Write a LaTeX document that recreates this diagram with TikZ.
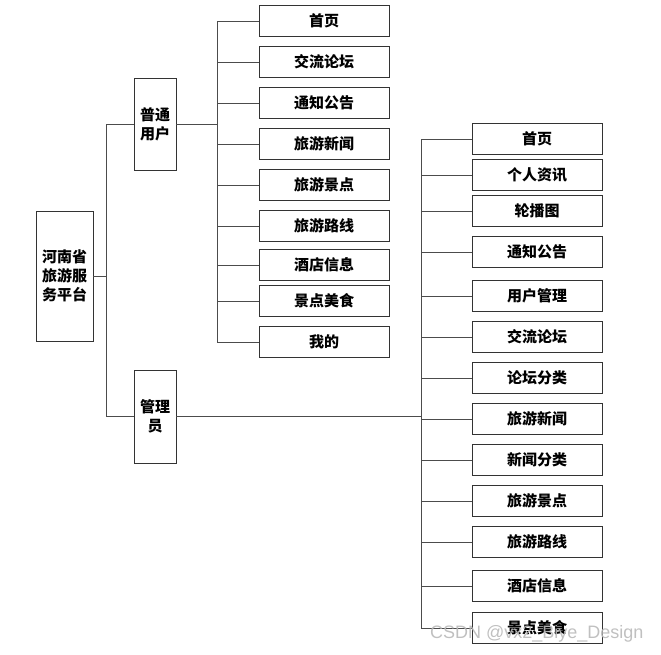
\documentclass[tikz,border=0pt]{standalone}
\usepackage{fontspec}
\usepackage{tikz}
\setmainfont{Liberation Sans}
\newfontfamily\cjk{Noto Sans CJK SC}
\newcommand{\boxfont}{\cjk\bfseries\fontsize{15pt}{19pt}\selectfont}

\tikzset{
    menubox/.style={draw=black!80, line width=0.9pt, inner sep=0pt, align=center, font=\boxfont},
    leafbox/.style={menubox, minimum width=130pt, minimum height=31pt},
    link/.style={draw=black!70, line width=0.8pt},
}

\begin{document}
\begin{tikzpicture}[x=1pt,y=-1pt]
    \useasboundingbox (0,0) rectangle (661,654);

    % platform and roles
    \node[menubox, minimum width=57pt, minimum height=130pt] (platform) at (64.5,276) {河南省\\旅游服\\务平台};
    \node[menubox, minimum width=42pt, minimum height=92pt] (user) at (155,124) {普通\\用户};
    \node[menubox, minimum width=42pt, minimum height=93pt] (admin) at (155,416.5) {管理\\员};

    \coordinate (rootbus) at (106,276);
    \coordinate (userbus) at (217,124);
    \coordinate (adminbus) at (421,416.5);

    \draw[link] (platform.east) -- (rootbus);
    \draw[link] (rootbus) |- (user.west);
    \draw[link] (rootbus) |- (admin.west);
    \draw[link] (user.east) -- (userbus);
    \draw[link] (admin.east) -- (adminbus);

    % user menu
    \foreach \y/\t [count=\i] in {21/首页, 62/交流论坛, 103/通知公告, 144/旅游新闻, 185/旅游景点,
            226/旅游路线, 265/酒店信息, 301/景点美食, 342/我的} {
        \node[leafbox] (u\i) at (324,\y) {\t};
        \draw[link] (userbus) |- (u\i.west);
    }

    % admin menu
    \foreach \y/\t [count=\i] in {139/首页, 175/个人资讯, 211/轮播图, 252/通知公告, 296/用户管理,
            337/交流论坛, 378/论坛分类, 419/旅游新闻, 460/新闻分类, 501/旅游景点,
            542/旅游路线, 586/酒店信息, 628/景点美食} {
        \node[leafbox] (a\i) at (537,\y) {\t};
        \draw[link] (adminbus) |- (a\i.west);
    }

    \node[text=gray!55, opacity=0.9, font=\fontsize{18pt}{20pt}\selectfont, anchor=east] (mark) at (647,634) {CSDN @vx2\_Biye\_Design};
\end{tikzpicture}
\end{document}
